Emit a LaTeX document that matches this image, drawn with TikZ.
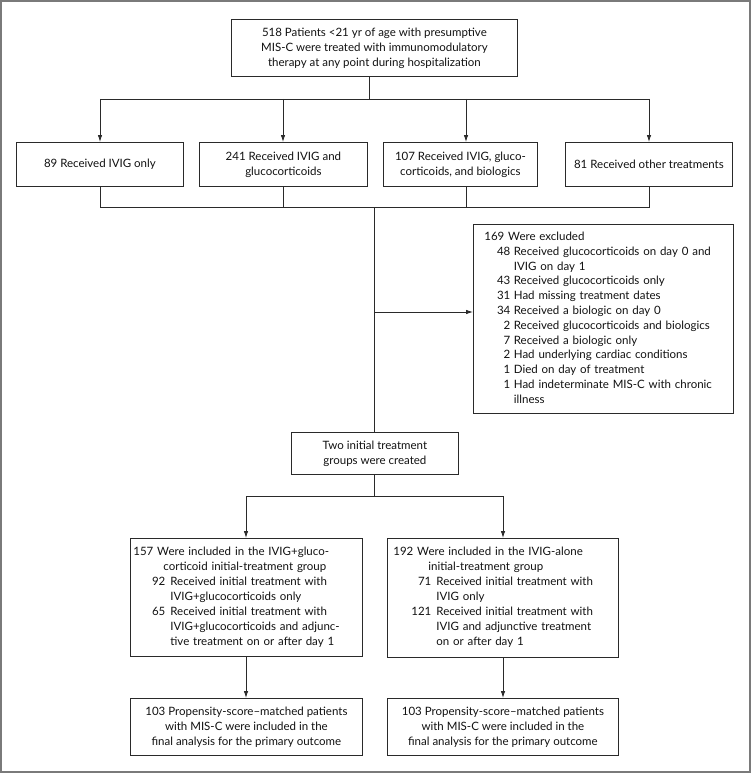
\documentclass[tikz,border=0pt]{standalone}
\usepackage{fontspec}
\usetikzlibrary{arrows.meta}
\newfontfamily\boxfam{Lato}
\newcommand\boxfont{\boxfam\fontsize{11.5}{15}\selectfont}
\definecolor{linecol}{HTML}{2A2A2A}
\definecolor{textcol}{HTML}{111111}
\definecolor{framecol}{HTML}{7A7A7A}
\tikzset{
  box/.style={draw=linecol, line width=0.8pt, inner sep=0pt, align=center, font=\boxfont, text=textcol},
  ln/.style={draw=linecol, line width=0.8pt},
  arr/.style={draw=linecol, line width=0.8pt, -{Latex[length=7pt,width=4.5pt]}}
}
\begin{document}
\begin{tikzpicture}[x=1pt,y=-1pt]
\useasboundingbox (0,0) rectangle (751,773);
\draw[framecol, line width=2pt] (1,1) rectangle (750,772);

% top
\node[box, anchor=north west, minimum width=286, minimum height=57] (top) at (231,19)
  {518 Patients <21 yr of age with presumptive\\MIS-C were treated with immunomodulatory\\therapy at any point during hospitalization};

% row 1
\node[box, anchor=north west, minimum width=167, minimum height=44] (b1) at (16,142) {89 Received IVIG only};
\node[box, anchor=north west, minimum width=168, minimum height=44] (b2) at (199,142) {241 Received IVIG and\\glucocorticoids};
\node[box, anchor=north west, minimum width=154, minimum height=44] (b3) at (383,142) {107 Received IVIG, gluco-\\corticoids, and biologics};
\node[box, anchor=north west, minimum width=167, minimum height=44] (b4) at (565,142) {81 Received other treatments};

\coordinate (j0) at (369,99);
\coordinate (h1) at (100,99);
\coordinate (h2) at (283,99);
\coordinate (h3) at (466,99);
\coordinate (h4) at (649,99);
\draw[ln] (top.south -| j0) -- (j0);
\draw[ln] (h1) -- (h4);
\draw[arr] (h1) -- (h1 |- b1.north);
\draw[arr] (h2) -- (h2 |- b2.north);
\draw[arr] (h3) -- (h3 |- b3.north);
\draw[arr] (h4) -- (h4 |- b4.north);

\coordinate (g1) at (100,207);
\coordinate (g2) at (283,207);
\coordinate (g3) at (466,207);
\coordinate (g4) at (649,207);
\draw[ln] (b1.south -| g1) -- (g1) -- (g4) -- (b4.south -| g4);
\draw[ln] (b2.south -| g2) -- (g2);
\draw[ln] (b3.south -| g3) -- (g3);

% excluded
\node[box, anchor=north west, minimum width=260, minimum height=189, inner xsep=11, text width=238, align=left] (excl) at (473,224)
{\fontsize{11.5}{14.8}\selectfont
\begin{tabular}{@{}r@{\hspace{3.5pt}}l@{}}
\multicolumn{2}{@{}l@{}}{169 Were excluded}\\
\makebox[26pt][r]{48} & Received glucocorticoids on day 0 and\\
 & IVIG on day 1\\
43 & Received glucocorticoids only\\
31 & Had missing treatment dates\\
34 & Received a biologic on day 0\\
2 & Received glucocorticoids and biologics\\
7 & Received a biologic only\\
2 & Had underlying cardiac conditions\\
1 & Died on day of treatment\\
1 & Had indeterminate MIS-C with chronic\\
 & illness
\end{tabular}};

% two groups
\node[box, anchor=north west, minimum width=167, minimum height=42] (two) at (291,432) {Two initial treatment\\groups were created};

\coordinate (t0) at (374,207);
\coordinate (t1) at (374,312);
\draw[ln] (t0) -- (two.north -| t0);
\draw[arr] (t1) -- (t1 -| excl.west);

% group boxes
\node[box, anchor=north west, minimum width=232, minimum height=118, inner xsep=3, text width=226, align=left] (gl) at (130,538)
{\begin{tabular}{@{}r@{\hspace{5pt}}l@{}}
\multicolumn{2}{@{}l@{}}{157 Were included in the IVIG+gluco-}\\
\multicolumn{2}{@{}l@{}}{\hspace{30pt}corticoid initial-treatment group}\\
\makebox[32pt][r]{92} & Received initial treatment with\\
 & IVIG+glucocorticoids only\\
65 & Received initial treatment with\\
 & IVIG+glucocorticoids and adjunc-\\
 & tive treatment on or after day 1
\end{tabular}};

\node[box, anchor=north west, minimum width=231, minimum height=119, inner xsep=6, text width=219, align=left] (gr) at (387,538)
{\begin{tabular}{@{}r@{\hspace{5pt}}l@{}}
\multicolumn{2}{@{}l@{}}{192 Were included in the IVIG-alone}\\
\multicolumn{2}{@{}l@{}}{\hspace{35pt}initial-treatment group}\\
\makebox[38pt][r]{71} & Received initial treatment with\\
 & IVIG only\\
121 & Received initial treatment with\\
 & IVIG and adjunctive treatment\\
 & on or after day 1
\end{tabular}};

\coordinate (s0) at (374,496);
\coordinate (sl) at (246,496);
\coordinate (sr) at (503,496);
\draw[ln] (two.south -| s0) -- (s0);
\draw[ln] (sl) -- (sr);
\draw[arr] (sl) -- (sl |- gl.north);
\draw[arr] (sr) -- (sr |- gr.north);

% final boxes
\node[box, anchor=north west, minimum width=232, minimum height=57] (fl) at (130,698)
  {103 Propensity-score–matched patients\\with MIS-C were included in the\\final analysis for the primary outcome};
\node[box, anchor=north west, minimum width=231, minimum height=57] (fr) at (387,698)
  {103 Propensity-score–matched patients\\with MIS-C were included in the\\final analysis for the primary outcome};

\draw[arr] (gl.south -| sl) -- (sl |- fl.north);
\draw[arr] (gr.south -| sr) -- (sr |- fr.north);
\end{tikzpicture}
\end{document}
